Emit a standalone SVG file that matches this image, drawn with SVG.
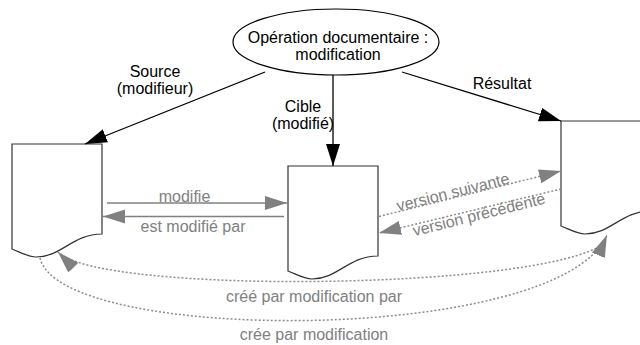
<svg xmlns="http://www.w3.org/2000/svg" width="640" height="345" viewBox="0 0 640 345">
<style>
text{font-family:"Liberation Sans",Arial,sans-serif;font-size:16px}
.blk{fill:#000}
.gry{fill:#808080}
.doc{fill:#fff;stroke:#333;stroke-width:1.2}
.ell{fill:#fff;stroke:#000;stroke-width:1.2}
.arr{fill:none;stroke:#000;stroke-width:1.3}
.sol{fill:none;stroke:#808080;stroke-width:1.6}
.dot{fill:none;stroke:#8c8c8c;stroke-width:1.5;stroke-dasharray:2 2}
</style>
<defs>
<marker id="hb" markerUnits="userSpaceOnUse" markerWidth="24" markerHeight="16" refX="22" refY="7" orient="auto"><path d="M0,0 L22,7 L0,14 z" fill="#000"/></marker>
<marker id="hg" markerUnits="userSpaceOnUse" markerWidth="24" markerHeight="16" refX="22" refY="7" orient="auto"><path d="M0,0 L22,7 L0,14 z" fill="#808080"/></marker>
</defs>
<g id="op">
<ellipse class="ell" cx="336" cy="42" rx="103" ry="33"/>
<text class="blk" x="338" y="42.5" text-anchor="middle">Opération documentaire :</text>
<text class="blk" x="338" y="60" text-anchor="middle">modification</text>
</g>
<g id="doc-source">
<path class="doc" d="M12,144 H102 V234 C72,234 62,257 36,257 C28,257 20,252 12,249 Z"/>
</g>
<g id="doc-cible">
<path class="doc" d="M288,166 H378 V256 C348,256 338,279 312,279 C304,279 296,274 288,271 Z"/>
</g>
<g id="doc-resultat">
<path class="doc" d="M561,121 H651 V211 C621,211 611,234 585,234 C577,234 569,229 561,226 Z"/>
</g>
<g id="connectors">
<line class="arr" x1="265" y1="72" x2="85" y2="144" marker-end="url(#hb)"/>
<line class="arr" x1="333" y1="75" x2="333" y2="166" marker-end="url(#hb)"/>
<line class="arr" x1="402" y1="72" x2="561" y2="121" marker-end="url(#hb)"/>
<line class="sol" x1="107" y1="203" x2="287" y2="203" marker-end="url(#hg)"/>
<line class="sol" x1="284" y1="216.5" x2="103" y2="216.5" marker-end="url(#hg)"/>
<line class="dot" x1="379" y1="216.5" x2="561" y2="171" marker-end="url(#hg)"/>
<line class="dot" x1="561" y1="189" x2="379" y2="233" marker-end="url(#hg)"/>
<path class="dot" d="M603,244 C540,290 100,295 58,252" marker-end="url(#hg)"/>
<path class="dot" d="M40,258 C60,345 560,345 607,235" marker-end="url(#hg)"/>
<text class="blk" x="155" y="77" text-anchor="middle">Source</text>
<text class="blk" x="155" y="94" text-anchor="middle">(modifieur)</text>
<text class="blk" x="303" y="111.5" text-anchor="middle">Cible</text>
<text class="blk" x="303" y="128.5" text-anchor="middle">(modifié)</text>
<text class="blk" x="502" y="88.5" text-anchor="middle">Résultat</text>
<text class="gry" x="184.5" y="201.5" text-anchor="middle">modifie</text>
<text class="gry" x="193" y="232" text-anchor="middle">est modifié par</text>
<text class="gry" transform="translate(453,192.5) rotate(-14)" y="5" text-anchor="middle">version suivante</text>
<text class="gry" transform="translate(479,215) rotate(-14)" y="5" text-anchor="middle">version précédente</text>
<text class="gry" x="314" y="302" text-anchor="middle">créé par modification par</text>
<text class="gry" x="314" y="340" text-anchor="middle">crée par modification</text>
</g>
</svg>
